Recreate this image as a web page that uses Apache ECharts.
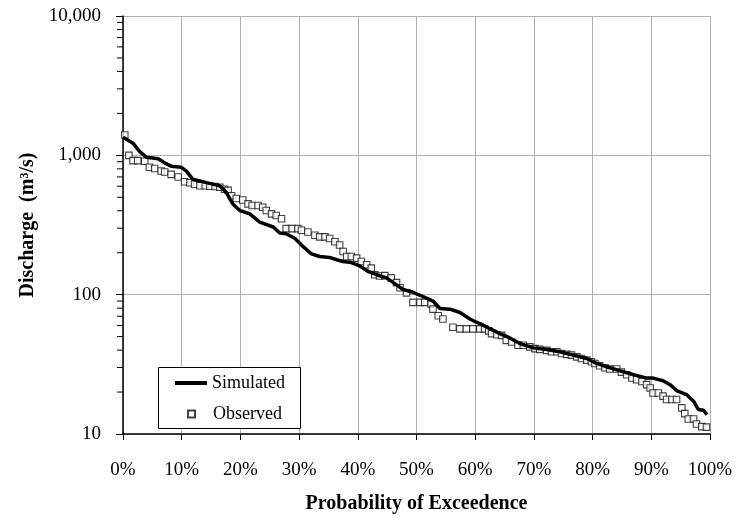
<!DOCTYPE html>
<html>
<head>
<meta charset="utf-8">
<script src="https://cdn.jsdelivr.net/npm/echarts@6/dist/echarts.min.js"></script>
<style>
  html, body { margin: 0; padding: 0; background: #fff; }
  #chart { width: 736px; height: 519px; }
</style>
</head>
<body>
<div id="chart"></div>
<script>
// Simulated flow duration curve (probability %, discharge m3/s)
const simProb = [0, 1.7, 2.8, 4.0, 6.0, 7.1, 8.2, 9.9, 10.8, 11.9, 14.2, 16.5, 17.6, 18.7, 19.9, 21.6, 23.3, 25.6, 26.7, 27.8,
  29.3, 30.7, 32.1, 33.5, 35.2, 36.4, 37.5, 38.9, 40.3, 41.7, 43.2, 44.9, 46.3, 47.7, 49.4, 51.1, 52.8, 54.0, 55.7, 57.4,
  59.1, 60.2, 61.0, 62.5, 64.2, 65.9, 67.6, 69.9, 72.2, 74.4, 76.7, 79.0, 80.7, 82.4, 84.7, 87.0, 89.2, 90.3, 92.0, 93.2,
  94.3, 96.0, 97.2, 98.0, 98.9, 99.5]
const simFlow = [1350, 1222, 1067, 968, 946, 883, 836, 822, 771, 673, 637, 604, 541, 448, 402, 380, 332, 306, 277, 274,
  253, 221, 196, 188, 185, 178, 173, 170, 161, 147, 139, 132, 120, 109, 104, 97, 90, 79.6, 78.7, 74.5,
  66.9, 63.4, 61.5, 57, 52.5, 48.9, 44.6, 41.5, 40.4, 38.9, 36.8, 34.8, 32.1, 30.4, 28.4, 26.6, 25.2, 25.2, 24.1, 22.6,
  20.5, 19.2, 17.2, 15.0, 14.8, 13.8]

// Observed flow duration points
const obsProb = [0.3, 1.0, 1.7, 2.5, 3.7, 4.5, 5.4, 6.5, 7.1, 8.2, 9.4, 10.5, 11.4, 12.2, 13.1, 14.0, 14.8, 15.7, 16.5, 17.3,
  17.9, 18.5, 19.3, 20.4, 21.3, 22.0, 23.0, 23.8, 24.4, 25.3, 26.1, 27.0, 27.8, 28.8, 29.8, 30.4, 31.5, 32.7, 33.5, 34.4,
  35.2, 36.1, 36.9, 37.5, 38.1, 38.9, 39.8, 40.6, 41.5, 42.3, 42.9, 43.7, 44.6, 45.7, 46.6, 47.2, 48.3, 49.4, 50.6, 51.4,
  52.5, 52.8, 53.7, 54.5, 56.2, 57.4, 58.5, 59.6, 60.8, 61.6, 62.3, 62.8, 63.7, 64.5, 65.3, 66.2, 67.3, 68.2, 69.3, 70.2,
  71.0, 72.2, 73.0, 73.9, 74.7, 75.6, 76.4, 77.3, 78.1, 79.0, 79.8, 80.4, 81.2, 82.1, 82.9, 84.1, 84.9, 85.8, 86.7, 87.5,
  88.4, 89.2, 89.8, 90.3, 91.2, 92.0, 92.6, 93.5, 94.3, 95.2, 95.7, 96.3, 97.2, 97.7, 98.6, 99.4]
const obsFlow = [1400, 1000, 916, 916, 906, 822, 804, 771, 760, 730, 699, 647, 635, 620, 605, 605, 600, 598, 590, 571,
  560, 513, 490, 478, 448, 437, 437, 424, 402, 380, 370, 351, 298, 298, 298, 290, 282, 267, 260, 260,
  253, 240, 227, 204, 188, 188, 183, 173, 164, 155, 139, 136, 137, 132, 122, 112, 103, 88, 88, 88,
  85.5, 78.7, 70.6, 66.9, 58.3, 56.8, 56.8, 56.8, 56.8, 56.8, 55, 52.5, 51.5, 51, 47, 45.7, 43.4, 43.4, 42.2, 41,
  40.5, 39.8, 38.9, 38.9, 37.8, 37.3, 36.8, 35.8, 34.8, 33.9, 33, 32.1, 30.9, 29.9, 29.3, 29.3, 27.8, 26.6, 25.2, 24.5,
  23.8, 22.6, 21.4, 19.7, 19.7, 18.7, 17.7, 17.7, 17.7, 15.4, 14, 12.8, 12.8, 11.8, 11.3, 11.2]

// log axis minor tick values
const minorTickValues = [20, 30, 40, 50, 60, 70, 80, 90, 200, 300, 400, 500, 600, 700, 800, 900,
  2000, 3000, 4000, 5000, 6000, 7000, 8000, 9000]

const FONT = 'Liberation Serif'

const chart = echarts.init(document.getElementById('chart'))

const option = {
  animation: false,
  backgroundColor: '#fff',
  grid: { left: 123, right: 26, top: 16, bottom: 79 },
  xAxis: {
    type: 'value',
    min: 0,
    max: 100,
    interval: 10,
    name: 'Probability of Exceedence',
    nameLocation: 'middle',
    nameGap: 60,
    nameTextStyle: { fontFamily: FONT, fontWeight: 'bold', fontSize: 20, color: '#000' },
    axisLine: { lineStyle: { color: '#000', width: 1.5 } },
    axisTick: { show: true, length: 6, lineStyle: { color: '#000' } },
    axisLabel: { formatter: '{value}%', fontFamily: FONT, fontSize: 19, color: '#000', margin: 27 },
    splitLine: { show: true, lineStyle: { color: '#b0b0b0', width: 1 } }
  },
  yAxis: {
    type: 'log',
    logBase: 10,
    min: 10,
    max: 10000,
    name: 'Discharge  (m³/s)',
    nameLocation: 'middle',
    nameGap: 83,
    nameTextStyle: { fontFamily: FONT, fontWeight: 'bold', fontSize: 20, color: '#000' },
    axisLine: { show: true, lineStyle: { color: '#000', width: 1.5 } },
    axisTick: { show: true, length: 7, lineStyle: { color: '#000' } },
    axisLabel: {
      fontFamily: FONT, fontSize: 19, color: '#000', margin: 22,
      formatter: (v) => Math.round(v).toLocaleString('en-US')
    },
    splitLine: { show: true, lineStyle: { color: '#b0b0b0', width: 1 } }
  },
  legend: [
    {
      data: [{ name: 'Simulated', icon: 'path://M0,0h32v4h-32z' }],
      left: 175, top: 374,
      padding: 0,
      itemWidth: 32, itemHeight: 14,
      symbolKeepAspect: true,
      textStyle: { fontFamily: FONT, fontSize: 18, color: '#000' },
      z: 20
    },
    {
      data: [{ name: 'Observed', icon: 'rect' }],
      left: 187, top: 405,
      padding: 0,
      itemWidth: 7, itemHeight: 7,
      textStyle: { fontFamily: FONT, fontSize: 18, color: '#000', padding: [0, 0, 0, 13] },
      z: 20
    }
  ],
  graphic: [
    {
      type: 'rect',
      left: 158, top: 367,
      z: 15,
      shape: { width: 142, height: 61 },
      style: { fill: '#fff', stroke: '#000', lineWidth: 1 }
    }
  ],
  series: [
    {
      name: 'Observed',
      type: 'scatter',
      data: obsProb.map((p, i) => [p, obsFlow[i]]),
      symbol: 'rect',
      symbolSize: 6.5,
      itemStyle: { color: '#fff', borderColor: '#111', borderWidth: 1.1 },
      z: 2
    },
    {
      name: 'Simulated',
      type: 'line',
      data: simProb.map((p, i) => [p, simFlow[i]]),
      symbol: 'none',
      lineStyle: { color: '#000', width: 3.5 },
      itemStyle: { color: '#000' },
      z: 3
    },
    {
      // minor ticks on the log axis
      type: 'custom',
      silent: true,
      clip: false,
      data: minorTickValues.map((v) => [0, v]),
      renderItem: (params, api) => {
        const pt = api.coord([api.value(0), api.value(1)])
        return {
          type: 'line',
          shape: { x1: pt[0] - 6, y1: pt[1], x2: pt[0], y2: pt[1] },
          style: { stroke: '#000', lineWidth: 1 }
        }
      },
      z: 4
    }
  ]
}

chart.setOption(option)
</script>
</body>
</html>
